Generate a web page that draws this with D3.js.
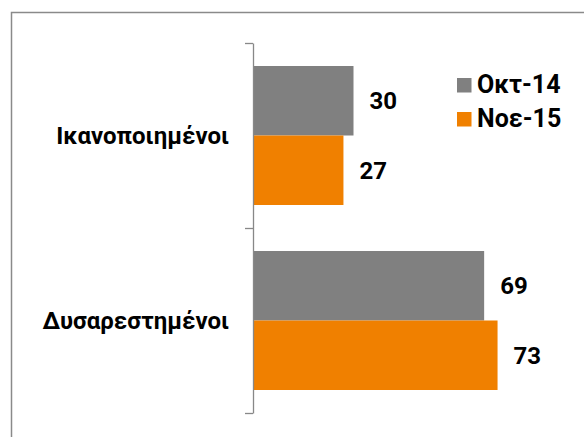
<!DOCTYPE html>
<html>
<head>
<meta charset="utf-8">
<script src="https://cdn.jsdelivr.net/npm/d3@7"></script>
<style>
  html, body { margin: 0; padding: 0; background: #fff; }
  svg { display: block; }
  text { font-family: Roboto, "Open Sans", "Noto Sans", sans-serif; font-weight: bold; fill: #000; }
</style>
</head>
<body>
<svg id="chart" width="584" height="437"></svg>
<script>
const categories = ["Ικανοποιημένοι", "Δυσαρεστημένοι"];
const seriesNames = ["Οκτ-14", "Νοε-15"];
const oct14 = [30, 69];
const nov15 = [27, 73];
const seriesColors = ["#808080", "#F08000"];

const seriesValues = [oct14, nov15];
const data = categories.map((c, i) => ({
  category: c,
  values: seriesNames.map((s, j) => ({ series: s, value: seriesValues[j][i] }))
}));

const svg = d3.select("#chart");

// chart area border (only top & left visible)
svg.append("rect")
  .attr("x", 11.5).attr("y", 12.5)
  .attr("width", 700).attr("height", 600)
  .attr("fill", "none")
  .attr("stroke", "#8a8a8a")
  .attr("stroke-width", 1.5);

const x = d3.scaleLinear().domain([0, 90]).range([253, 554.5]);
const y = d3.scaleBand().domain(categories).range([43, 413]).paddingInner(0).paddingOuter(0);
const y1 = d3.scaleBand().domain(seriesNames).range([0, y.bandwidth()]).paddingInner(0).paddingOuter(0.331);
const color = d3.scaleOrdinal().domain(seriesNames).range(seriesColors);

// bars
const groups = svg.append("g").selectAll("g")
  .data(data).join("g")
  .attr("transform", d => `translate(0,${y(d.category)})`);

groups.selectAll("rect")
  .data(d => d.values).join("rect")
  .attr("x", x(0))
  .attr("y", d => y1(d.series))
  .attr("width", d => x(d.value) - x(0))
  .attr("height", y1.bandwidth())
  .attr("fill", d => color(d.series));

groups.selectAll("text.val")
  .data(d => d.values).join("text")
  .attr("class", "val")
  .attr("x", d => x(d.value) + 16)
  .attr("y", d => y1(d.series) + y1.bandwidth() / 2)
  .attr("dy", "0.36em")
  .style("font-size", "24px")
  .text(d => d.value);

// axis with ticks at band boundaries
const yEdge = d3.scaleLinear().domain([0, categories.length]).range([43, 413]);
const axisG = svg.append("g")
  .attr("transform", `translate(${x(0)},0)`)
  .call(d3.axisLeft(yEdge).tickValues(d3.range(categories.length + 1)).tickSize(8).tickSizeOuter(0).tickFormat(""));
axisG.selectAll("path, line").attr("stroke", "#888").attr("stroke-width", 1.3);

// category labels
const labG = svg.append("g")
  .attr("transform", `translate(${x(0) - 24},0)`)
  .call(d3.axisLeft(y).tickSize(0).tickPadding(0));
labG.select(".domain").remove();
labG.selectAll("text")
  .attr("text-anchor", "end")
  .attr("x", 0)
  .attr("dy", "0.36em")
  .style("font-family", "Roboto, 'Open Sans', sans-serif")
  .style("font-weight", "bold")
  .style("font-size", "24px")
  .attr("fill", "#000");

// legend
const legend = svg.append("g").selectAll("g")
  .data(seriesNames).join("g")
  .attr("transform", (d, i) => `translate(457,${78 + i * 34})`);
legend.append("rect")
  .attr("width", 14.5).attr("height", 14.5)
  .attr("fill", d => color(d));
legend.append("text")
  .attr("x", 20)
  .attr("y", 15)
  .style("font-size", "25px")
  .text(d => d);
</script>
</body>
</html>
